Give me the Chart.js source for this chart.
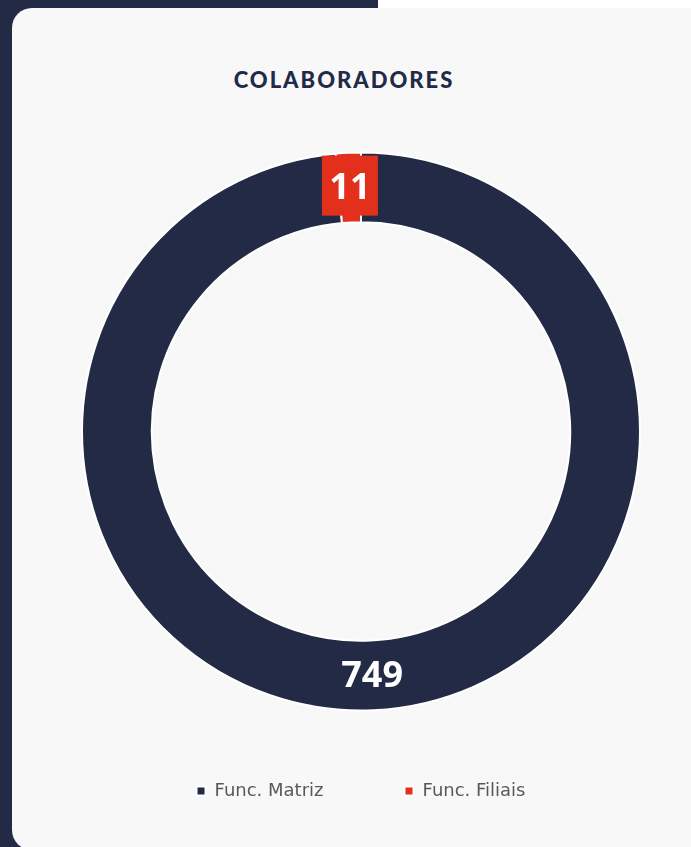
<!DOCTYPE html>
<html>
<head>
<meta charset="utf-8">
<script src="https://cdn.jsdelivr.net/npm/chart.js@4.4.1/dist/chart.umd.min.js"></script>
<style>
  html, body { margin: 0; padding: 0; background: #ffffff; }
  body { width: 691px; height: 847px; position: relative; overflow: hidden; }
  #side { position: absolute; left: 0; top: 0; width: 378px; height: 847px; background: #222a45; }
  #card { position: absolute; left: 12px; top: 8px; width: 720px; height: 842px; background: #f8f8f8; border-radius: 20px; }
  #title { position: absolute; left: 2px; top: 66px; width: 684px; text-align: center;
           font-family: "Lato", sans-serif; font-weight: 900; font-size: 22px; color: #222a45; letter-spacing: 2px; }
  #wrap { position: absolute; left: 51px; top: 147px; width: 620px; height: 663px; }
</style>
</head>
<body>
<div id="side"></div>
<div id="card"></div>
<div id="title">COLABORADORES</div>
<div id="wrap"><canvas id="colab-chart"></canvas></div>
<script>
// dados
var labels = ['Func. Matriz', 'Func. Filiais'];
var values = [749, 11];
var colors = ['#222a45', '#e2301c'];

// rótulos dentro das fatias
var sliceLabels = {
    id: 'sliceLabels',
    afterDatasetsDraw: function (chart) {
        var ctx = chart.ctx;
        var meta = chart.getDatasetMeta(0);
        ctx.save();
        meta.data.forEach(function (arc, i) {
            var pos = arc.tooltipPosition();
            if (i === 1) {
                ctx.fillStyle = colors[1];
                ctx.fillRect(pos.x - 28, pos.y - 32, 56, 60);
            }
            ctx.fillStyle = '#ffffff';
            ctx.font = 'bold 36px "Open Sans", sans-serif';
            ctx.textAlign = 'center';
            ctx.textBaseline = 'middle';
            ctx.fillText(values[i], pos.x, pos.y + 1);
        });
        ctx.restore();
    }
};

var config = {
    type: 'doughnut',
    data: {
        labels: labels,
        datasets: [{
            data: values,
            backgroundColor: colors,
            borderColor: '#ffffff',
            borderWidth: 2,
            clip: false
        }]
    },
    options: {
        responsive: true,
        maintainAspectRatio: false,
        animation: false,
        cutout: '75%',
        radius: 279,
        layout: { padding: { top: 15 } },
        plugins: {
            legend: {
                display: true,
                position: 'bottom',
                labels: {
                    boxWidth: 9,
                    boxHeight: 9,
                    padding: 81,
                    color: '#595959',
                    font: { family: 'DejaVu Sans', size: 18 }
                }
            },
            tooltip: { enabled: false }
        }
    },
    plugins: [sliceLabels]
};

var ctx = document.getElementById('colab-chart').getContext('2d');
window.colabChart = new Chart(ctx, config);
</script>
</body>
</html>
